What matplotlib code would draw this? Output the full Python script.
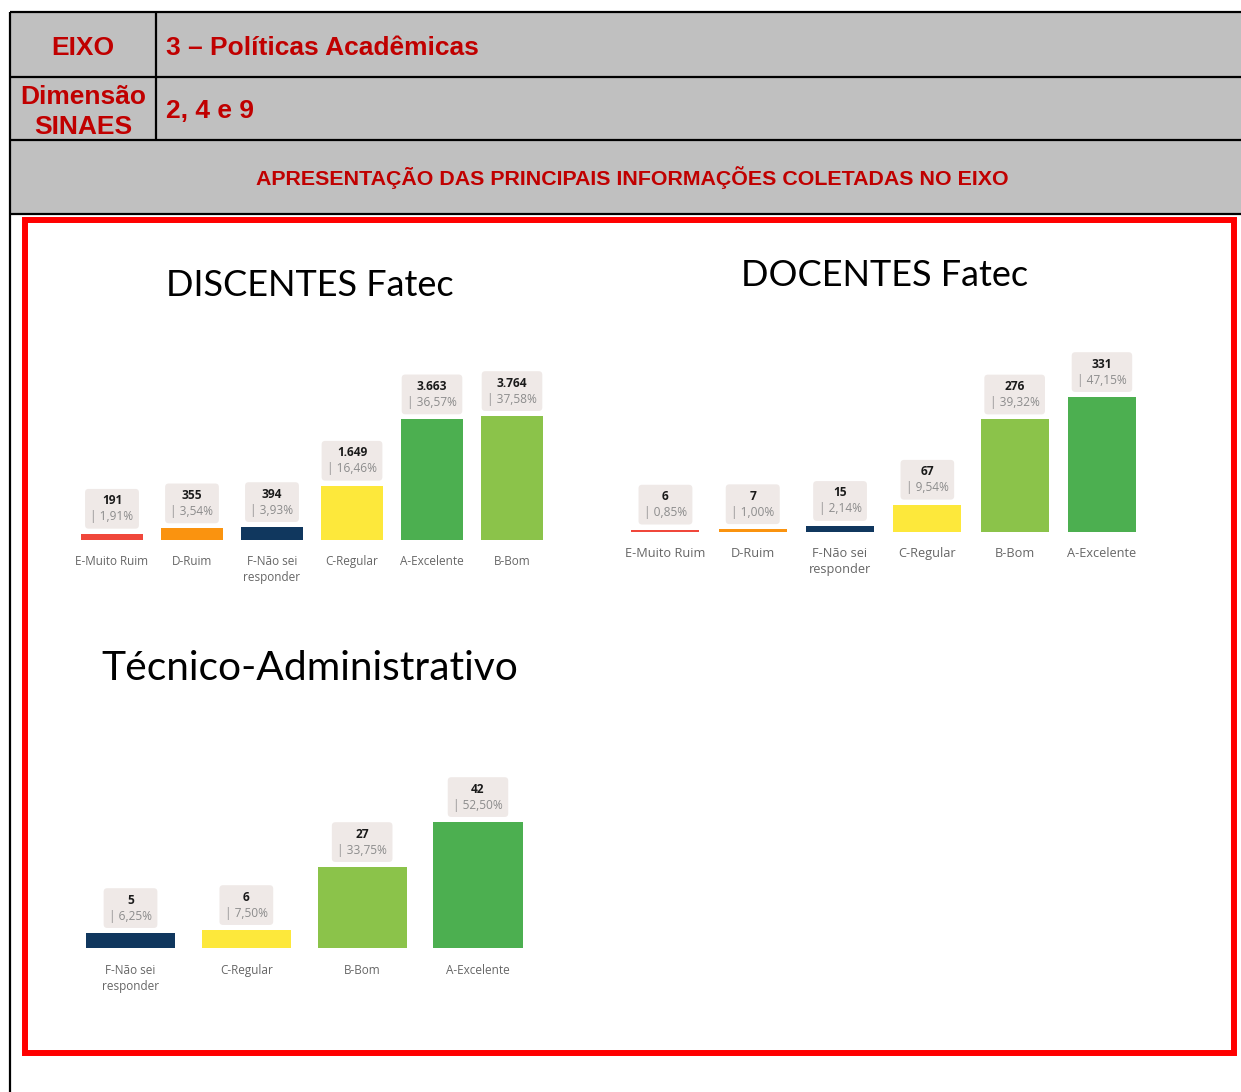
"""Recreate the CPA report panel: header table + three Power BI-style bar charts."""
import matplotlib

matplotlib.use("Agg")
import matplotlib.pyplot as plt
from matplotlib.patches import Rectangle

W, H = 1241, 1092

# ── Data ──────────────────────────────────────────────────────────────────────
EIXO_LABEL = "EIXO"
EIXO_TEXT = "3 – Políticas Acadêmicas"
DIM_LABEL = "Dimensão\nSINAES"
DIM_TEXT = "2, 4 e 9"
SECTION_TEXT = "APRESENTAÇÃO DAS PRINCIPAIS INFORMAÇÕES COLETADAS NO EIXO"

disc_title = "DISCENTES Fatec"
disc_cats = ["E-Muito Ruim", "D-Ruim", "F-Não sei\nresponder", "C-Regular", "A-Excelente", "B-Bom"]
disc_counts = [191, 355, 394, 1649, 3663, 3764]
disc_pcts = ["1,91%", "3,54%", "3,93%", "16,46%", "36,57%", "37,58%"]

doc_title = "DOCENTES Fatec"
doc_cats = ["E-Muito Ruim", "D-Ruim", "F-Não sei\nresponder", "C-Regular", "B-Bom", "A-Excelente"]
doc_counts = [6, 7, 15, 67, 276, 331]
doc_pcts = ["0,85%", "1,00%", "2,14%", "9,54%", "39,32%", "47,15%"]

tec_title = "Técnico-Administrativo"
tec_cats = ["F-Não sei\nresponder", "C-Regular", "B-Bom", "A-Excelente"]
tec_counts = [5, 6, 27, 42]
tec_pcts = ["6,25%", "7,50%", "33,75%", "52,50%"]

# ── Style ─────────────────────────────────────────────────────────────────────
COLORS = {
    "E": "#F0473B",
    "D": "#FA930F",
    "F": "#10375E",
    "C": "#FDE83B",
    "A": "#4CAF50",
    "B": "#8BC34A",
}
BOX_COLOR = "#EFE9E7"
HEAD_RED = "#C00000"
LABEL_FONT = "Open Sans"
TITLE_FONT = "Lato"

fig = plt.figure(figsize=(W / 100, H / 100), dpi=100)

# background layer in pixel coordinates
bg = fig.add_axes([0, 0, 1, 1])
bg.set_xlim(0, W)
bg.set_ylim(H, 0)
bg.axis("off")

bg.add_patch(Rectangle((10, 12), W - 10, 202, fc="#C0C0C0", ec="none"))
line_kw = dict(color="black", lw=1.6, solid_capstyle="butt")
for y in (12, 77, 140, 214):
    bg.plot([10, W], [y, y], **line_kw)
bg.plot([156, 156], [12, 140], **line_kw)
bg.plot([10, 10], [12, H], **line_kw)

head_kw = dict(family="Liberation Sans", fontweight="bold", color=HEAD_RED)
bg.text(83, 55, EIXO_LABEL, ha="center", va="baseline", fontsize=19, **head_kw)
bg.text(166, 55, EIXO_TEXT, ha="left", va="baseline", fontsize=19, **head_kw)
bg.text(83, 134, DIM_LABEL, ha="center", va="baseline", fontsize=19,
        linespacing=1.3, **head_kw)
bg.text(166, 118, DIM_TEXT, ha="left", va="baseline", fontsize=19, **head_kw)
bg.text(632, 185, SECTION_TEXT, ha="center", va="baseline", fontsize=15.4, **head_kw)

bg.add_patch(Rectangle((25, 220), 1209, 833, fill=False, ec="#FF0000", lw=4.3))

bg.text(310, 296, disc_title, ha="center", va="baseline", fontsize=26, family=TITLE_FONT)
bg.text(885, 286, doc_title, ha="center", va="baseline", fontsize=26, family=TITLE_FONT)
bg.text(101, 680, tec_title, ha="left", va="baseline", fontsize=29.3, family=TITLE_FONT)


def draw_chart(cats, counts, pcts, left, right, base, max_top, width, pad, tick_size):
    """Bar chart whose plotting area spans pixels left..right above baseline."""
    top = base - 220
    ax = fig.add_axes([left / W, 1 - base / H, (right - left) / W, (base - top) / H])
    ax.patch.set_visible(False)
    ymax = max(counts) * (base - top) / (base - max_top)
    x = list(range(len(cats)))
    ax.bar(x, counts, width=width, color=[COLORS[c[0]] for c in cats], zorder=2)
    ax.set_xlim(-0.5, len(cats) - 0.5)
    ax.set_ylim(0, ymax)
    for s in ax.spines.values():
        s.set_visible(False)
    ax.set_yticks([])
    ax.set_xticks(x)
    ax.set_xticklabels(cats, family=LABEL_FONT, fontsize=tick_size, color="#666666",
                       linespacing=1.3)
    ax.tick_params(axis="x", length=0, pad=pad)

    for i, (v, p) in enumerate(zip(counts, pcts)):
        val = f"{v:,}".replace(",", ".")
        pct = f"| {p}"
        kw = dict(xy=(i, v), xytext=(0, 7.5), textcoords="offset points",
                  ha="center", va="bottom", fontsize=8.6, family=LABEL_FONT,
                  linespacing=1.3, annotation_clip=False)
        ax.annotate(f"{val}\n{pct}", color="none",
                    bbox=dict(boxstyle="round,pad=0.45,rounding_size=0.3",
                              fc=BOX_COLOR, ec="none"), **kw)
        ax.annotate(f"{val}\n ", color="#1A1A1A", fontweight="bold", **kw)
        ax.annotate(f" \n{pct}", color="#8C8C8C", **kw)
    return ax


draw_chart(disc_cats, disc_counts, disc_pcts, 72, 552, 540, 416, 0.775, 11, 8.5)
draw_chart(doc_cats, doc_counts, doc_pcts, 621.8, 1145.6, 532, 397, 0.78, 11, 9.2)
draw_chart(tec_cats, tec_counts, tec_pcts, 72.6, 535.9, 948, 822, 0.77, 11.5, 8.5)

fig.savefig("out.png", dpi=100)
plt.close(fig)
